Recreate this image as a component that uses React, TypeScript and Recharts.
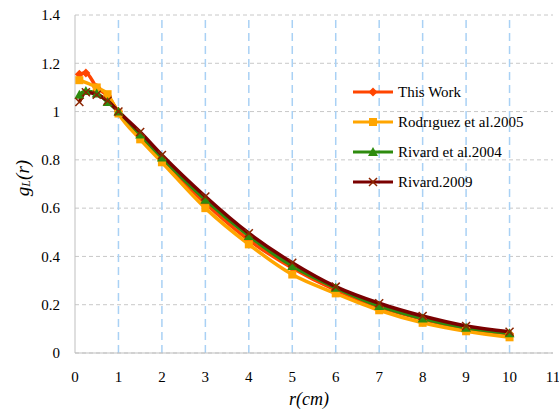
import { LineChart, Line, XAxis, YAxis, CartesianGrid, Legend, ReferenceLine } from "recharts"

// radial distance r (cm)
const radius = [0.1, 0.25, 0.5, 0.75, 1, 1.5, 2, 3, 4, 5, 6, 7, 8, 9, 10]

const thisWork = [1.155, 1.16, 1.1, 1.065, 1.0, 0.9, 0.8, 0.62, 0.468, 0.352, 0.26, 0.19, 0.14, 0.1, 0.08]
const rodriguez2005 = [1.13, null, 1.1, 1.072, 0.992, 0.885, 0.79, 0.6, 0.45, 0.325, 0.247, 0.177, 0.125, 0.09, 0.065]
const rivard2004 = [1.07, 1.085, 1.075, 1.04, 1.0, 0.905, 0.81, 0.635, 0.485, 0.36, 0.27, 0.195, 0.143, 0.105, 0.082]
const rivard2009 = [1.04, 1.08, 1.07, 1.045, 1.0, 0.915, 0.82, 0.648, 0.496, 0.374, 0.275, 0.206, 0.153, 0.112, 0.088]

const xTicks = [0, 1, 2, 3, 4, 5, 6, 7, 8, 9, 10, 11]
const xGridTicks = [1, 2, 3, 4, 5, 6, 7, 8, 9, 10]
const yTicks = [0, 0.2, 0.4, 0.6, 0.8, 1, 1.2, 1.4]

const data = radius.map((r, i) => ({
  r,
  thisWork: thisWork[i],
  rodriguez: rodriguez2005[i],
  rivard2004: rivard2004[i],
  rivard2009: rivard2009[i],
}))

const FONT = "Times New Roman, Liberation Serif, Tinos, DejaVu Serif"

type Shape = "diamond" | "square" | "triangle" | "cross"

const series: { key: string; name: string; color: string; shape: Shape }[] = [
  { key: "thisWork", name: "This Work", color: "#FF4500", shape: "diamond" },
  { key: "rodriguez", name: "Rodrıguez et al.2005", color: "#FFA500", shape: "square" },
  { key: "rivard2004", name: "Rivard et al.2004", color: "#2E8B0E", shape: "triangle" },
  { key: "rivard2009", name: "Rivard.2009", color: "#7A0000", shape: "cross" },
]

function marker(shape: Shape, cx: number, cy: number, color: string, key?: any) {
  if (cx == null || cy == null || isNaN(cy)) return <g key={key} />
  if (shape === "diamond")
    return <path key={key} d={`M${cx},${cy - 4.5}L${cx + 4.5},${cy}L${cx},${cy + 4.5}L${cx - 4.5},${cy}Z`} fill={color} />
  if (shape === "square") return <rect key={key} x={cx - 4} y={cy - 4} width={8} height={8} fill={color} />
  if (shape === "triangle")
    return <path key={key} d={`M${cx},${cy - 5}L${cx + 5},${cy + 4}L${cx - 5},${cy + 4}Z`} fill={color} />
  return (
    <path
      key={key}
      d={`M${cx - 4},${cy - 4}L${cx + 4},${cy + 4}M${cx - 4},${cy + 4}L${cx + 4},${cy - 4}`}
      stroke="#8B2500"
      strokeWidth={1.5}
    />
  )
}

const YLabel = () => (
  <text
    x={22}
    y={178}
    transform="rotate(-90 22 178)"
    textAnchor="middle"
    dominantBaseline="central"
    fontFamily={FONT}
    fontStyle="italic"
    fontSize={19}
    fill="#000"
  >
    g<tspan fontSize={12} dy={4}>L</tspan>
    <tspan fontSize={19} dy={-4}>(r)</tspan>
  </text>
)

const XLabel = () => (
  <text x={309} y={399} textAnchor="middle" dominantBaseline="central" fontFamily={FONT} fontStyle="italic" fontSize={18} fill="#000">
    r(cm)
  </text>
)

const LegendBox = () => (
  <div style={{ fontFamily: FONT, fontSize: 15, color: "#000" }}>
    {series.map((s) => (
      <div key={s.key} style={{ display: "flex", alignItems: "center", height: 30 }}>
        <svg width={44} height={14}>
          <line x1={2} y1={7} x2={42} y2={7} stroke={s.color} strokeWidth={3} />
          {marker(s.shape, 22, 7, s.color)}
        </svg>
        <span style={{ marginLeft: 3 }}>{s.name}</span>
      </div>
    ))}
  </div>
)

export default function App() {
  return (
    <div style={{ position: "fixed", left: 0, top: 0, width: 559, height: 413, background: "#fff" }}>
      <LineChart width={559} height={413} data={data} margin={{ top: 15, right: 6, left: 0, bottom: 30 }}>
        <CartesianGrid vertical={false} stroke="#C8C8C8" strokeDasharray="4 3" />
        {xGridTicks.map((t) => (
          <ReferenceLine key={t} x={t} stroke="#A9D1F5" strokeWidth={1.5} strokeDasharray="8 5" />
        ))}
        <XAxis
          dataKey="r"
          type="number"
          domain={[0, 11]}
          ticks={xTicks}
          interval={0}
          height={30}
          tickLine={false}
          tickMargin={12}
          axisLine={{ stroke: "#BFBFBF" }}
          tick={{ fontFamily: FONT, fontSize: 15, fill: "#000" }}
          label={<XLabel />}
        />
        <YAxis
          type="number"
          domain={[0, 1.4]}
          ticks={yTicks}
          interval={0}
          width={75}
          tickLine={false}
          tickMargin={9}
          axisLine={{ stroke: "#BFBFBF" }}
          tick={{ fontFamily: FONT, fontSize: 15, fill: "#000" }}
          tickFormatter={(v) => String(Number(Number(v).toFixed(1)))}
          label={<YLabel />}
        />
        <Legend
          layout="vertical"
          align="center"
          verticalAlign="middle"
          content={<LegendBox />}
          wrapperStyle={{ left: 351, top: 77, width: 200 }}
        />
        {series.map((s) => (
          <Line
            key={s.key}
            dataKey={s.key}
            name={s.name}
            type="monotone"
            stroke={s.color}
            strokeWidth={3.5}
            connectNulls
            isAnimationActive={false}
            dot={(p: any) => marker(s.shape, p.cx, p.cy, s.color, p.key ?? `${s.key}-${p.index}`)}
            activeDot={false}
          />
        ))}
      </LineChart>
    </div>
  )
}
